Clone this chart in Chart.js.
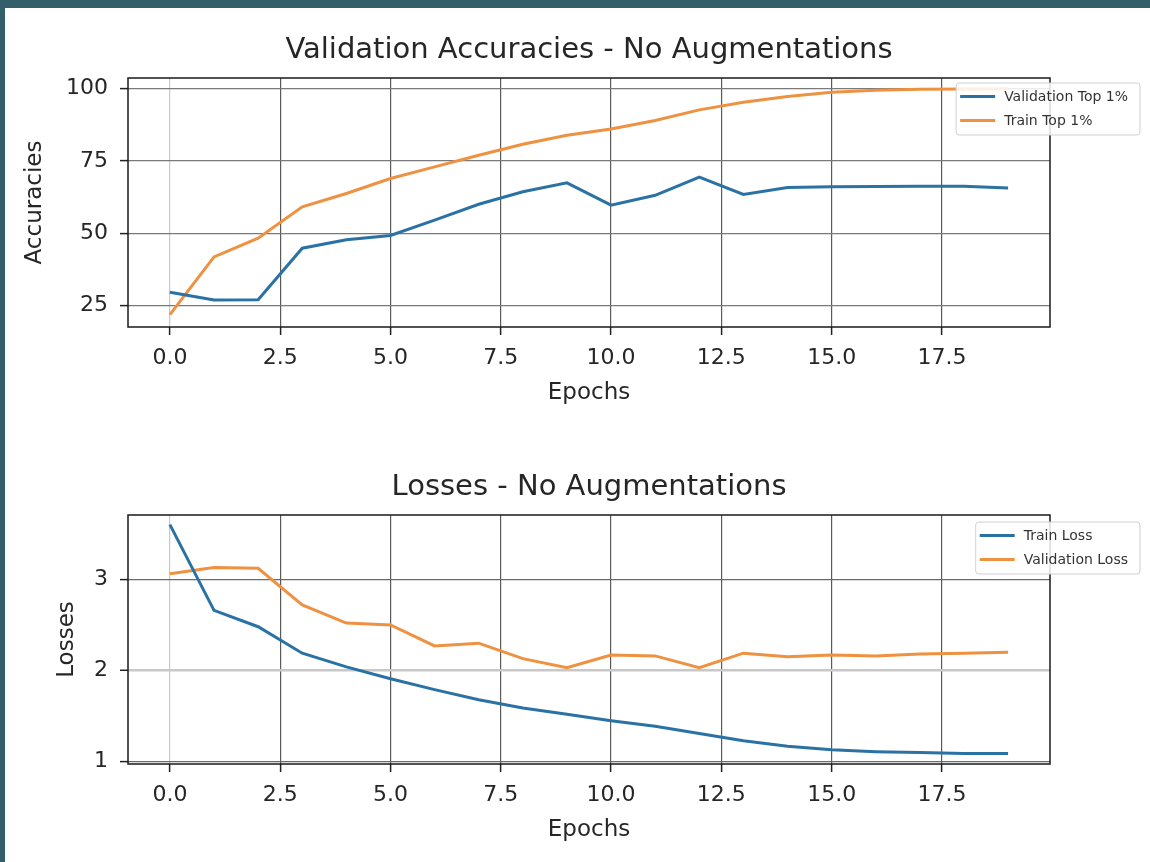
<!DOCTYPE html>
<html>
<head>
<meta charset="utf-8">
<script src="https://cdn.jsdelivr.net/npm/chart.js@4.4.1/dist/chart.umd.min.js"></script>
<style>
  html, body { margin: 0; padding: 0; background: #345f6a; width: 1150px; height: 862px; overflow: hidden; }
  #panel { position: absolute; left: 5px; top: 8px; width: 1145px; height: 854px; background: #fff; }
  canvas { position: absolute; left: 0; }
  #accChart { top: 0; }
  #lossChart { top: 420px; }
</style>
</head>
<body>
<div id="panel">
  <canvas id="accChart" width="1145" height="420"></canvas>
  <canvas id="lossChart" width="1145" height="434"></canvas>
</div>
<script>
// data
const epochs = [0, 1, 2, 3, 4, 5, 6, 7, 8, 9, 10, 11, 12, 13, 14, 15, 16, 17, 18, 19];
const xTicks = [0, 2.5, 5, 7.5, 10, 12.5, 15, 17.5];
const accTicks = [25, 50, 75, 100];
const lossTicks = [1, 2, 3];

const valTop1   = [29.6, 26.9, 27.0, 44.8, 47.7, 49.2, 54.5, 60.0, 64.3, 67.4, 59.7, 63.1, 69.4, 63.4, 65.8, 66.0, 66.1, 66.2, 66.2, 65.6];
const trainTop1 = [21.9, 41.8, 48.3, 59.1, 63.7, 68.9, 72.9, 76.9, 80.7, 83.8, 86.0, 88.9, 92.6, 95.2, 97.2, 98.7, 99.4, 99.7, 99.8, 99.9];
const trainLoss = [3.60, 2.66, 2.48, 2.19, 2.04, 1.91, 1.79, 1.68, 1.59, 1.52, 1.45, 1.39, 1.31, 1.23, 1.17, 1.13, 1.11, 1.10, 1.09, 1.09];
const valLoss   = [3.06, 3.13, 3.12, 2.72, 2.52, 2.50, 2.27, 2.30, 2.13, 2.03, 2.17, 2.16, 2.03, 2.19, 2.15, 2.17, 2.16, 2.18, 2.19, 2.20];

const BLUE = '#2b72a4';
const ORANGE = '#ee9140';
const FONT = "'DejaVu Sans', sans-serif";
const TXT = '#262626';

const pts = vals => epochs.map((e, i) => ({ x: e, y: vals[i] }));

// title, axes frame and a matplotlib-like legend
function decor(title, legendTop) {
  return {
    id: 'decor',
    afterDatasetsDraw(chart) {
      const { ctx, chartArea: a } = chart;
      ctx.save();
      ctx.fillStyle = TXT;
      ctx.font = '29px ' + FONT;
      ctx.textAlign = 'center';
      ctx.textBaseline = 'middle';
      ctx.fillText(title, (a.left + a.right) / 2, a.top - 28);

      ctx.strokeStyle = '#1a1a1a';
      ctx.lineWidth = 1.5;
      ctx.strokeRect(a.left, a.top, a.right - a.left, a.bottom - a.top);

      // legend
      ctx.font = '14px ' + FONT;
      const sets = chart.data.datasets;
      const tw = Math.max(...sets.map(d => ctx.measureText(d.label).width));
      const w = 4 + 35 + 9 + tw + 12;
      const right = a.right + 90;
      const left = right - w;
      const top = a.top + legendTop;
      const h = 52;
      ctx.fillStyle = 'rgba(255,255,255,0.85)';
      ctx.strokeStyle = '#d0d0d0';
      ctx.lineWidth = 1;
      ctx.beginPath();
      ctx.roundRect(left, top, w, h, 3);
      ctx.fill();
      ctx.stroke();
      ctx.textAlign = 'left';
      sets.forEach((d, i) => {
        const y = top + 13.5 + i * 24;
        ctx.strokeStyle = d.borderColor;
        ctx.lineWidth = 3;
        ctx.beginPath();
        ctx.moveTo(left + 4, y);
        ctx.lineTo(left + 39, y);
        ctx.stroke();
        ctx.fillStyle = '#333';
        ctx.fillText(d.label, left + 48, y + 1);
      });
      ctx.restore();
    }
  };
}

function makeChart(id, cfg) {
  return new Chart(document.getElementById(id), {
    type: 'line',
    data: { datasets: cfg.datasets },
    options: {
      responsive: false,
      devicePixelRatio: 1,
      animation: false,
      layout: { padding: { left: cfg.padLeft, right: 100, top: cfg.padTop, bottom: cfg.padBottom } },
      plugins: { legend: { display: false }, tooltip: { enabled: false } },
      elements: { point: { radius: 0 }, line: { borderWidth: 3, tension: 0 } },
      scales: {
        x: {
          type: 'linear',
          min: -0.95,
          max: 19.95,
          afterBuildTicks: s => { s.ticks = xTicks.map(v => ({ value: v })); },
          afterFit: s => { s.height = 83.4; },
          ticks: {
            autoSkip: false, maxRotation: 0, padding: 10,
            color: TXT, font: { family: FONT, size: 22 },
            callback: v => v.toFixed(1)
          },
          grid: {
            color: c => (c.tick && c.tick.value === 0 ? '#c8c8c8' : '#5a5a5a'),
            lineWidth: 1.2, tickLength: 8, tickColor: '#222', tickWidth: 1.5
          },
          border: { display: false },
          title: { display: true, text: 'Epochs', color: TXT, font: { family: FONT, size: 23 }, padding: { top: 4, bottom: 4 } }
        },
        y: {
          min: cfg.yMin,
          max: cfg.yMax,
          afterBuildTicks: s => { s.ticks = cfg.yTicks.map(v => ({ value: v })); },
          afterFit: s => { s.width = cfg.yWidth; },
          ticks: {
            padding: 12, color: TXT, font: { family: FONT, size: 22 },
            callback: v => String(v)
          },
          grid: {
            color: cfg.yGridColor,
            lineWidth: cfg.yGridWidth,
            tickLength: 8, tickColor: '#222', tickWidth: 1.5
          },
          border: { display: false },
          title: { display: true, text: cfg.yTitle, color: TXT, font: { family: FONT, size: 23 }, padding: { top: 4, bottom: 4 } }
        }
      }
    },
    plugins: [decor(cfg.title, cfg.legendTop)]
  });
}

makeChart('accChart', {
  title: 'Validation Accuracies - No Augmentations',
  yTitle: 'Accuracies',
  datasets: [
    { label: 'Validation Top 1%', data: pts(valTop1), borderColor: BLUE, backgroundColor: BLUE },
    { label: 'Train Top 1%', data: pts(trainTop1), borderColor: ORANGE, backgroundColor: ORANGE }
  ],
  yMin: 17.6, yMax: 103.6, yTicks: accTicks,
  yGridColor: '#7a7a7a', yGridWidth: 1.2,
  padLeft: 12, yWidth: 111, padTop: 70, padBottom: 17.6,
  legendTop: 5
});

makeChart('lossChart', {
  title: 'Losses - No Augmentations',
  yTitle: 'Losses',
  datasets: [
    { label: 'Train Loss', data: pts(trainLoss), borderColor: BLUE, backgroundColor: BLUE },
    { label: 'Validation Loss', data: pts(valLoss), borderColor: ORANGE, backgroundColor: ORANGE }
  ],
  yMin: 0.975, yMax: 3.705, yTicks: lossTicks,
  yGridColor: c => (c.tick && c.tick.value === 2 ? '#c8c8c8' : '#6a6a6a'),
  yGridWidth: c => (c.tick && c.tick.value === 2 ? 2.5 : 1.2),
  padLeft: 44, yWidth: 79, padTop: 87, padBottom: 14.6,
  legendTop: 7
});
</script>
</body>
</html>
